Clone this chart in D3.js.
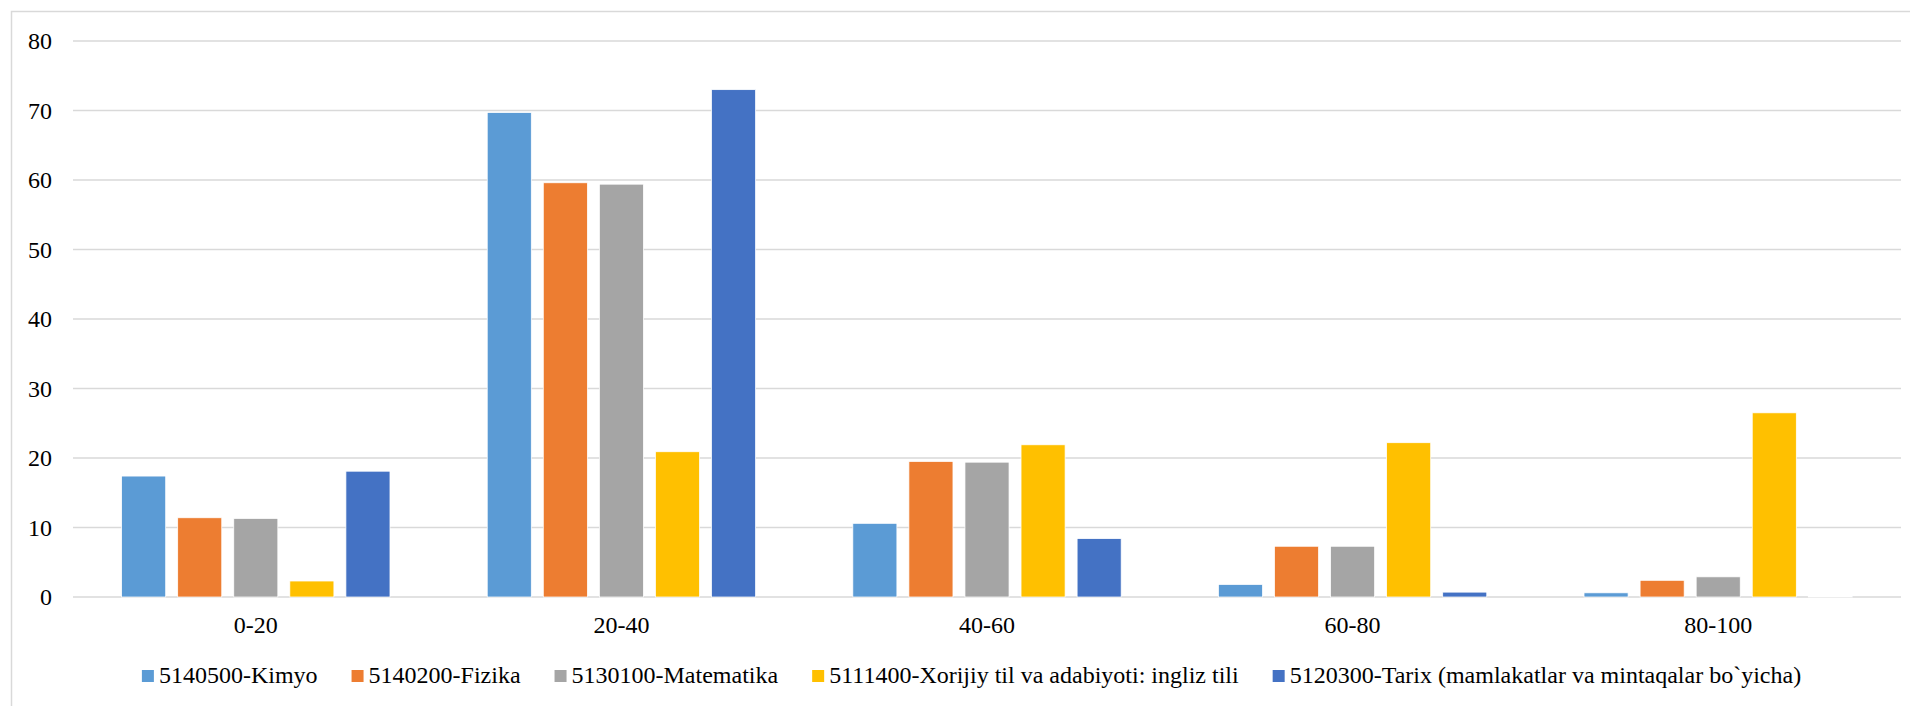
<!DOCTYPE html>
<html>
<head>
<meta charset="utf-8">
<script src="https://cdn.jsdelivr.net/npm/d3@7"></script>
<style>
  body { margin: 0; background: #fff; }
  svg text { font-family: 'Liberation Serif', 'Times New Roman', serif; fill: #000; }
</style>
</head>
<body>
<div id="chart-area"></div>
<script>
var w = 1910;
var h = 706;

// data
var categories = ["0-20", "20-40", "40-60", "60-80", "80-100"];
var series = ["5140500-Kimyo", "5140200-Fizika", "5130100-Matematika",
              "5111400-Xorijiy til va adabiyoti: ingliz tili",
              "5120300-Tarix (mamlakatlar va mintaqalar bo`yicha)"];
var kimyo      = [17.4, 69.7, 10.6, 1.8, 0.6];
var fizika     = [11.4, 59.6, 19.5, 7.3, 2.4];
var matematika = [11.3, 59.4, 19.4, 7.3, 2.9];
var xorijiy    = [2.3, 20.9, 21.9, 22.2, 26.5];
var tarix      = [18.1, 73.0, 8.4, 0.7, 0.1];
var yTicks = [0, 10, 20, 30, 40, 50, 60, 70, 80];

var colors = ["#5b9bd5", "#ed7d31", "#a5a5a5", "#ffc000", "#4472c4"];
var values = [kimyo, fizika, matematika, xorijiy, tarix];

var svg = d3.select('#chart-area').append('svg')
        .attr('width', w)
        .attr('height', h)
        .attr('font-family', "'Liberation Serif', 'Times New Roman', serif");

// outer frame
svg.append('rect')
    .attr('x', 11.5)
    .attr('y', 11.5)
    .attr('width', w + 10)
    .attr('height', h + 10)
    .attr('fill', 'none')
    .attr('stroke', '#d9d9d9')
    .attr('stroke-width', 1.5);

var plotLeft = 73, plotRight = 1901, plotTop = 41, plotBottom = 597;

var y = d3.scaleLinear().domain([0, 80]).range([plotBottom, plotTop]);
var x0 = d3.scaleBand().domain(categories).range([plotLeft, plotRight])
        .paddingInner(0.266).paddingOuter(0.133);
var x1 = d3.scaleBand().domain(d3.range(series.length)).range([0, x0.bandwidth()])
        .paddingInner(0.214);

// gridlines
svg.append('g').selectAll('line')
    .data(yTicks)
    .enter()
    .append('line')
    .attr('x1', plotLeft)
    .attr('x2', plotRight)
    .attr('y1', d => y(d))
    .attr('y2', d => y(d))
    .attr('stroke', '#d9d9d9')
    .attr('stroke-width', 1.5);

// y labels
svg.append('g').selectAll('text')
    .data(yTicks)
    .enter()
    .append('text')
    .attr('x', 52)
    .attr('y', d => y(d) + 8)
    .attr('text-anchor', 'end')
    .attr('font-size', 24)
    .text(d => d);

// bars
var groups = svg.append('g').selectAll('g')
    .data(categories)
    .enter()
    .append('g')
    .attr('transform', d => 'translate(' + x0(d) + ',0)');

groups.selectAll('rect')
    .data((d, ci) => values.map((v, si) => ({s: si, v: v[ci]})))
    .enter()
    .append('rect')
    .attr('x', d => x1(d.s))
    .attr('width', x1.bandwidth())
    .attr('y', d => y(d.v))
    .attr('height', d => y(0) - y(d.v))
    .attr('fill', d => colors[d.s])
    .attr('stroke', '#fff')
    .attr('stroke-width', 0.75);

// category labels
svg.append('g').selectAll('text')
    .data(categories)
    .enter()
    .append('text')
    .attr('x', d => x0(d) + x0.bandwidth() / 2)
    .attr('y', 633)
    .attr('text-anchor', 'middle')
    .attr('font-size', 24)
    .text(d => d);

// legend
var legend = svg.append('g');
var items = legend.selectAll('g')
    .data(series)
    .enter()
    .append('g');
items.append('rect')
    .attr('width', 12)
    .attr('height', 12)
    .attr('y', 670)
    .attr('fill', (d, i) => colors[i]);
items.append('text')
    .attr('x', 17)
    .attr('y', 683)
    .attr('font-size', 24)
    .text(d => d);

var widths = [];
items.each(function(){ widths.push(17 + d3.select(this).select('text').node().getComputedTextLength()); });
var gap = 34;
var total = d3.sum(widths) + gap * (widths.length - 1);
var pos = 971.5 - total / 2;
items.attr('transform', function(d, i){
    var t = 'translate(' + pos + ',0)';
    pos += widths[i] + gap;
    return t;
});
</script>
</body>
</html>
